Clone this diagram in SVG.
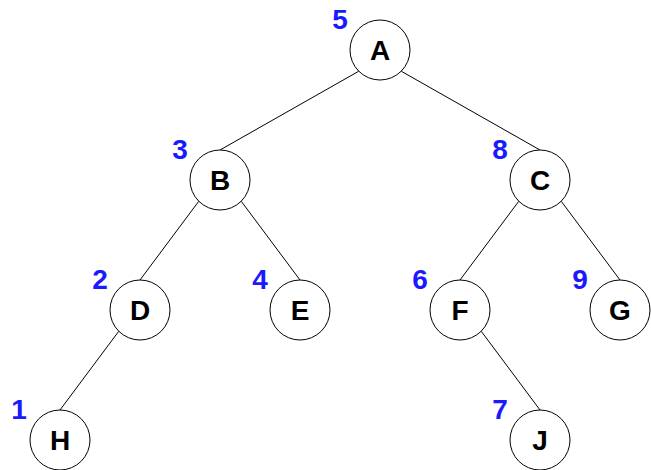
<svg xmlns="http://www.w3.org/2000/svg" width="651" height="470" viewBox="0 0 651 470">
<style>
.e{stroke:#000;stroke-width:1}
.n circle{fill:#fff;stroke:#000;stroke-width:1}
.n text{font-family:"Liberation Sans",Arial,sans-serif;font-weight:bold;font-size:28px;fill:#000;text-anchor:middle}
.n text.k{fill:#1a1aff;font-size:28px}
</style>
<rect width="651" height="470" fill="#fff"/>
<g id="edges">
<line class="e" x1="358.8" y1="71.2" x2="220" y2="150"/>
<line class="e" x1="401.2" y1="71.2" x2="540" y2="150"/>
<line class="e" x1="198.8" y1="201.2" x2="140" y2="280"/>
<line class="e" x1="241.2" y1="201.2" x2="300" y2="280"/>
<line class="e" x1="518.8" y1="201.2" x2="460" y2="280"/>
<line class="e" x1="561.2" y1="201.2" x2="620" y2="280"/>
<line class="e" x1="118.8" y1="331.2" x2="60" y2="410"/>
<line class="e" x1="481.2" y1="331.2" x2="540" y2="410"/>
</g>
<g id="A" class="n"><circle cx="380" cy="50" r="30"/><text x="380" y="60">A</text><text class="k" x="340" y="29">5</text></g>
<g id="B" class="n"><circle cx="220" cy="180" r="30"/><text x="220" y="190">B</text><text class="k" x="180" y="159">3</text></g>
<g id="C" class="n"><circle cx="540" cy="180" r="30"/><text x="540" y="190">C</text><text class="k" x="500" y="159">8</text></g>
<g id="D" class="n"><circle cx="140" cy="310" r="30"/><text x="140" y="320">D</text><text class="k" x="100" y="289">2</text></g>
<g id="E" class="n"><circle cx="300" cy="310" r="30"/><text x="300" y="320">E</text><text class="k" x="260" y="289">4</text></g>
<g id="F" class="n"><circle cx="460" cy="310" r="30"/><text x="460" y="320">F</text><text class="k" x="420" y="289">6</text></g>
<g id="G" class="n"><circle cx="620" cy="310" r="30"/><text x="620" y="320">G</text><text class="k" x="580" y="289">9</text></g>
<g id="H" class="n"><circle cx="60" cy="440" r="30"/><text x="60" y="450">H</text><text class="k" x="19" y="419">1</text></g>
<g id="J" class="n"><circle cx="540" cy="440" r="30"/><text x="540" y="450">J</text><text class="k" x="500" y="419">7</text></g>
</svg>
